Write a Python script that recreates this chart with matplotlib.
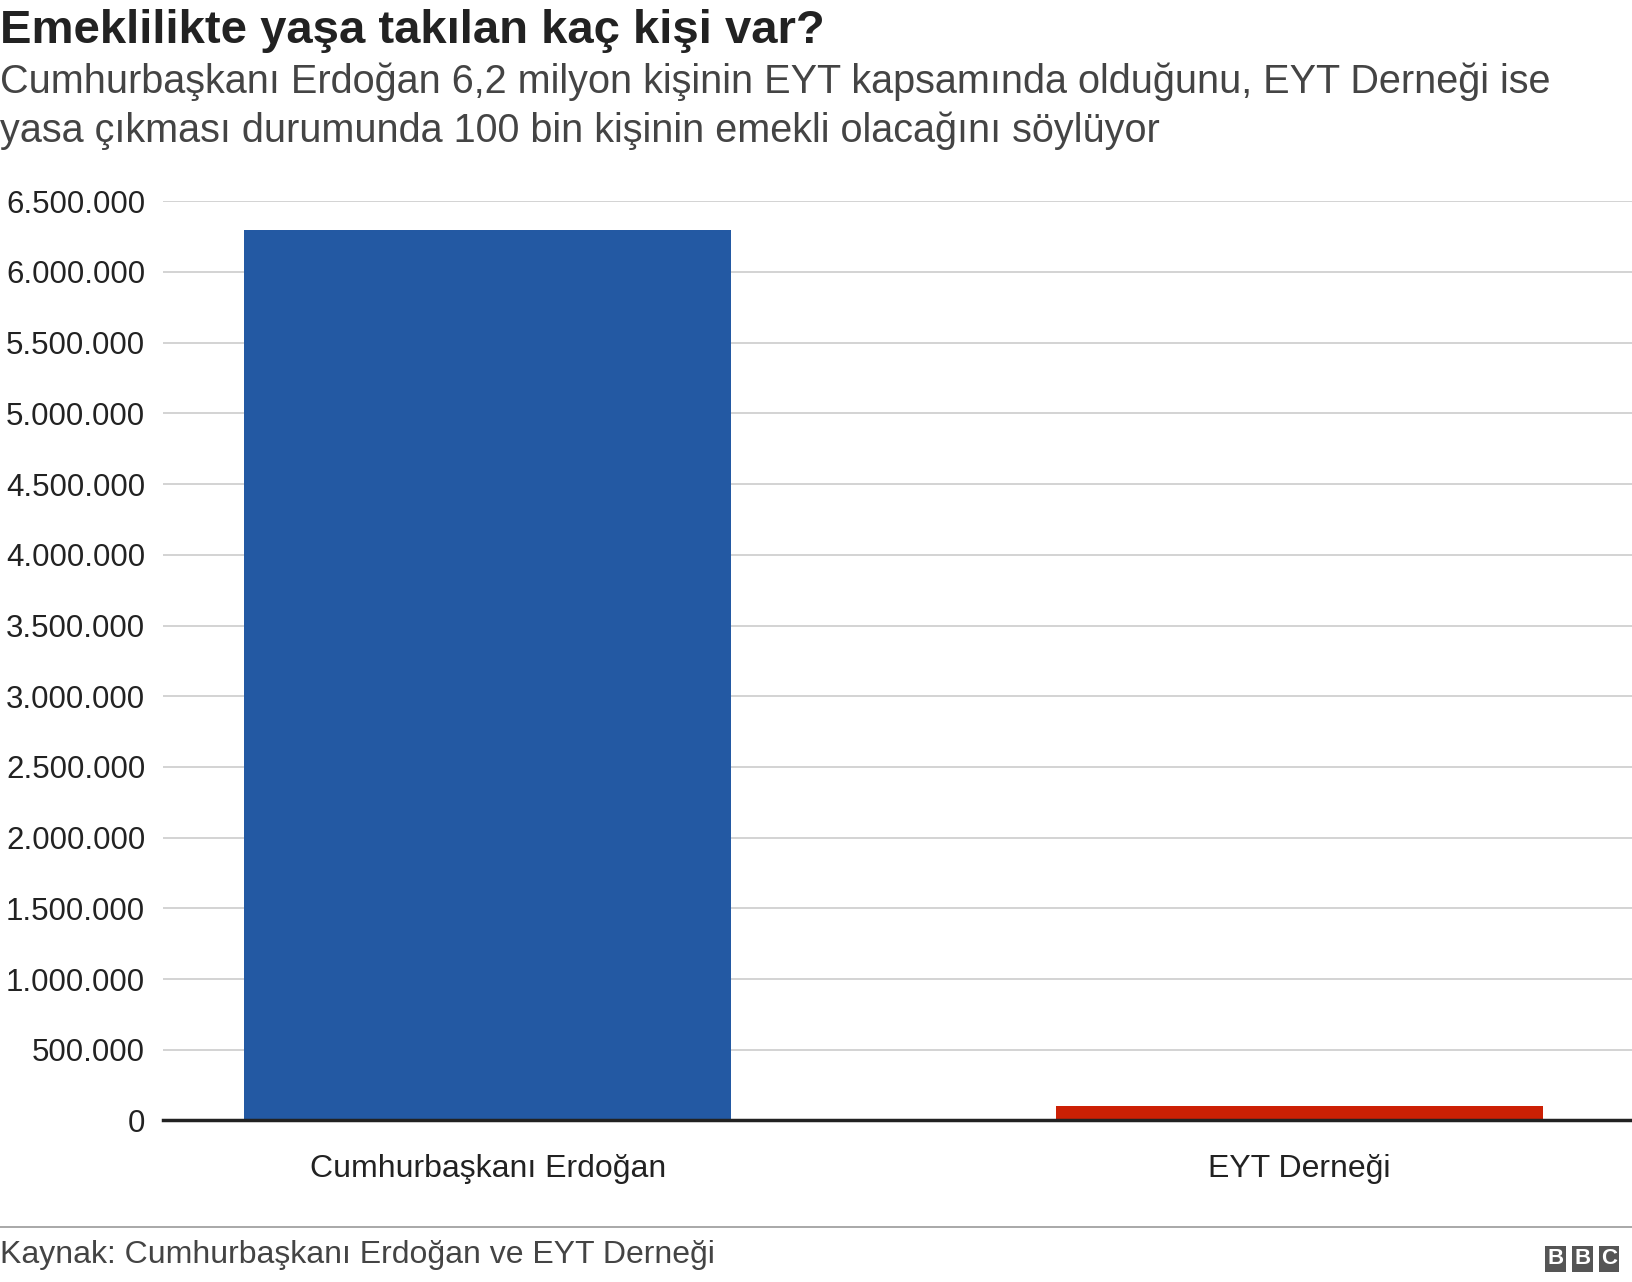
import matplotlib.pyplot as plt
from matplotlib.ticker import FuncFormatter

categories = ['Cumhurbaşkanı Erdoğan', 'EYT Derneği']
values = [6300000, 100000]
colors = ['#2359a3', '#cc2004']

plt.rcParams['font.family'] = ['Liberation Sans', 'DejaVu Sans']

fig = plt.figure(figsize=(16.32, 12.82), dpi=100)
ax = fig.add_axes([0.100, 0.126, 0.900, 0.717])

ax.bar(range(len(categories)), values, width=0.6, color=colors, zorder=3)
ax.set_xlim(-0.4, 1.41)
ax.set_ylim(0, 6500000)
ax.set_yticks(range(0, 6500001, 500000))
ax.yaxis.set_major_formatter(FuncFormatter(lambda v, p: f'{int(v):,}'.replace(',', '.')))
ax.set_xticks(range(len(categories)))
ax.set_xticklabels(categories)
ax.tick_params(axis='both', length=0, labelsize=23, colors='#222222')
ax.tick_params(axis='x', pad=24)
ax.tick_params(axis='y', labelsize=22.5, pad=13)
ax.grid(axis='y', color='#cccccc', linewidth=1.2, zorder=0)
for s in ['top', 'right', 'left']:
    ax.spines[s].set_visible(False)
ax.spines['bottom'].set_linewidth(2.5)
ax.spines['bottom'].set_color('#222222')
ax.spines['bottom'].set_zorder(4)

fig.text(0.0, 0.976, 'Emeklilikte yaşa takılan kaç kişi var?', fontsize=34,
         fontweight='bold', va='center', color='#222222')
fig.text(0.0, 0.936, 'Cumhurbaşkanı Erdoğan 6,2 milyon kişinin EYT kapsamında olduğunu, EYT Derneği ise',
         fontsize=28.5, va='center', color='#444444')
fig.text(0.0, 0.898, 'yasa çıkması durumunda 100 bin kişinin emekli olacağını söylüyor',
         fontsize=28.5, va='center', color='#444444')

fig.add_artist(plt.Line2D([0, 1], [0.043, 0.043], color='#999999', linewidth=1.2))
fig.text(0.0, 0.021, 'Kaynak: Cumhurbaşkanı Erdoğan ve EYT Derneği', fontsize=23,
         va='center', color='#444444')
for i, ch in enumerate('BBC'):
    fig.text(0.953 + i * 0.0165, 0.018, ch, fontsize=16, fontweight='bold', color='white',
             ha='center', va='center',
             bbox=dict(boxstyle='square,pad=0.1', facecolor='#555555', edgecolor='none'))

fig.savefig('out.png', dpi=100)
